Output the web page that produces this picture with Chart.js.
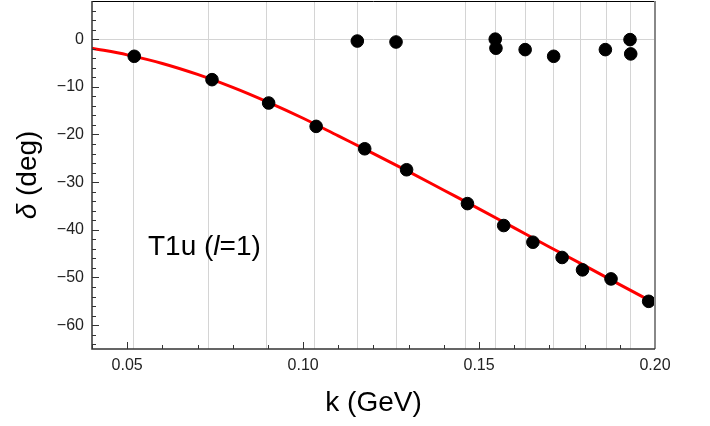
<!DOCTYPE html>
<html>
<head>
<meta charset="utf-8">
<script src="https://cdn.jsdelivr.net/npm/chart.js@4.4.0/dist/chart.umd.min.js"></script>
<style>
  html, body { margin: 0; padding: 0; background: #fff; }
  #wrap { width: 710px; height: 426px; position: relative; }
</style>
</head>
<body>
<div id="wrap"><canvas id="phase-shift"></canvas></div>
<script>
// lattice points, lower branch (follows the fit)
const lowerK = [0.0520, 0.0741, 0.0902, 0.1037, 0.1175, 0.1294, 0.1467, 0.1570, 0.1653, 0.1736, 0.1794, 0.1875, 0.1982];
const lowerDelta = [-3.6, -8.5, -13.4, -18.3, -23.0, -27.4, -34.5, -39.1, -42.6, -45.8, -48.4, -50.3, -55.0];

// lattice points near zero
const upperK = [0.1154, 0.1264, 0.1546, 0.1548, 0.1631, 0.1712, 0.1859, 0.1929, 0.1931];
const upperDelta = [-0.4, -0.6, 0.0, -1.9, -2.2, -3.6, -2.2, -0.1, -3.1];

// fitted curve
const curveK = [0.04, 0.05, 0.06, 0.07, 0.08, 0.09, 0.10, 0.11, 0.12, 0.13, 0.14, 0.15, 0.16, 0.17, 0.18, 0.19, 0.20];
const curveDelta = [-1.9, -3.3, -5.1, -7.4, -10.1, -13.2, -16.6, -20.3, -24.0, -27.8, -31.7, -35.6, -39.6, -43.6, -47.5, -51.5, -55.4];

// vertical grid lines (free energy levels)
const gridK = [0.05165, 0.07295, 0.08935, 0.10315, 0.11543, 0.12628, 0.14588, 0.15457, 0.16310, 0.17105, 0.17864, 0.18594, 0.19293];

const xTickValues = [0.05, 0.10, 0.15, 0.20];
const xTickLabels = ["0.05", "0.10", "0.15", "0.20"];
const yTickValues = [-60, -50, -40, -30, -20, -10, 0];
const yTickLabels = ["\u221260", "\u221250", "\u221240", "\u221230", "\u221220", "\u221210", "0"];

const FONT = "'Liberation Sans', Arial, sans-serif";

function toPoints(xs, ys) {
  return xs.map((x, i) => ({ x: x, y: ys[i] }));
}

const framePlugin = {
  id: "frame",
  beforeDatasetsDraw(chart) {
    const { ctx, chartArea: a, scales } = chart;
    ctx.save();
    ctx.strokeStyle = "#d4d4d4";
    ctx.lineWidth = 1;
    ctx.beginPath();
    for (const k of gridK) {
      const px = Math.round(scales.x.getPixelForValue(k)) + 0.5;
      ctx.moveTo(px, a.top);
      ctx.lineTo(px, a.bottom);
    }
    const py = Math.round(scales.y.getPixelForValue(0)) + 0.5;
    ctx.moveTo(a.left, py);
    ctx.lineTo(a.right, py);
    ctx.stroke();
    ctx.restore();
  },
  afterDatasetsDraw(chart) {
    const { ctx, chartArea: a, scales } = chart;
    ctx.save();
    // ticks, pointing into the plot
    ctx.strokeStyle = "#333";
    ctx.lineWidth = 1;
    ctx.beginPath();
    for (let i = 4; i <= 20; i++) {
      const v = i / 100;
      const px = Math.round(scales.x.getPixelForValue(v)) + 0.5;
      const len = i % 5 === 0 ? 7 : 4;
      ctx.moveTo(px, a.bottom);
      ctx.lineTo(px, a.bottom - len);
    }
    for (let v = -64; v <= 8; v += 2) {
      const py = Math.round(scales.y.getPixelForValue(v)) + 0.5;
      const len = v % 10 === 0 ? 7 : 4;
      ctx.moveTo(a.left, py);
      ctx.lineTo(a.left + len, py);
    }
    ctx.stroke();

    // frame
    ctx.lineWidth = 1;
    ctx.strokeStyle = "#000";
    ctx.beginPath();
    ctx.moveTo(a.left, a.top + 0.5);
    ctx.lineTo(a.right, a.top + 0.5);
    ctx.stroke();
    ctx.lineWidth = 2;
    ctx.strokeStyle = "#888";
    ctx.beginPath();
    ctx.moveTo(a.right, a.top);
    ctx.lineTo(a.right, a.bottom);
    ctx.stroke();
    ctx.lineWidth = 1.5;
    ctx.strokeStyle = "#333";
    ctx.beginPath();
    ctx.moveTo(a.left, a.top);
    ctx.lineTo(a.left, a.bottom);
    ctx.lineTo(a.right, a.bottom);
    ctx.stroke();
    ctx.restore();
  },
  afterDraw(chart) {
    const { ctx, chartArea: a } = chart;
    ctx.save();
    ctx.fillStyle = "#000";
    ctx.textBaseline = "middle";

    // y title, rotated, italic delta
    const big = "28px " + FONT;
    const bigIt = "italic 28px " + FONT;
    ctx.font = bigIt;
    const wD = ctx.measureText("\u03b4").width;
    ctx.font = big;
    const wRest = ctx.measureText(" (deg)").width;
    ctx.translate(28, (a.top + a.bottom) / 2);
    ctx.rotate(-Math.PI / 2);
    let x0 = -(wD + wRest) / 2;
    ctx.textAlign = "left";
    ctx.font = bigIt;
    ctx.fillText("\u03b4", x0, 0);
    ctx.font = big;
    ctx.fillText(" (deg)", x0 + wD, 0);
    ctx.setTransform(chart.currentDevicePixelRatio, 0, 0, chart.currentDevicePixelRatio, 0, 0);

    // x title
    ctx.textAlign = "center";
    ctx.font = big;
    ctx.fillText("k (GeV)", (a.left + a.right) / 2, 403);

    // channel label
    ctx.textAlign = "left";
    ctx.textBaseline = "alphabetic";
    let tx = 148;
    const ty = 255;
    ctx.font = big;
    ctx.fillText("T1u (", tx, ty);
    tx += ctx.measureText("T1u (").width;
    ctx.font = bigIt;
    ctx.fillText("l", tx, ty);
    tx += ctx.measureText("l").width;
    ctx.font = big;
    ctx.fillText("=1)", tx, ty);
    ctx.restore();
  }
};

new Chart(document.getElementById("phase-shift"), {
  type: "scatter",
  data: {
    datasets: [
      {
        type: "line",
        data: toPoints(curveK, curveDelta),
        borderColor: "#ff0000",
        borderWidth: 3,
        pointRadius: 0,
        cubicInterpolationMode: "monotone",
        fill: false,
        order: 2,
      },
      {
        data: toPoints(lowerK, lowerDelta),
        backgroundColor: "#000",
        borderColor: "#000",
        pointRadius: 6.3,
        order: 1,
      },
      {
        data: toPoints(upperK, upperDelta),
        backgroundColor: "#000",
        borderColor: "#000",
        pointRadius: 6.3,
        order: 1,
      },
    ],
  },
  options: {
    responsive: true,
    maintainAspectRatio: false,
    animation: false,
    layout: { autoPadding: false, padding: { left: 0, top: 1, right: 55, bottom: 0 } },
    plugins: {
      legend: { display: false },
      tooltip: { enabled: false },
    },
    scales: {
      x: {
        type: "linear",
        min: 0.04,
        max: 0.2,
        grid: { display: false, drawTicks: false },
        border: { display: false },
        afterBuildTicks: scale => {
          scale.ticks = xTickValues.map(v => ({ value: v }));
        },
        afterFit: scale => {
          scale.height = 77;
          scale.paddingLeft = 0;
          scale.paddingRight = 0;
        },
        ticks: {
          autoSkip: false,
          maxRotation: 0,
          padding: 7,
          color: "#222",
          font: { family: FONT, size: 16 },
          callback: (value, index) => xTickLabels[index],
        },
      },
      y: {
        type: "linear",
        min: -65,
        max: 8,
        grid: { display: false, drawTicks: false },
        border: { display: false },
        afterBuildTicks: scale => {
          scale.ticks = yTickValues.map(v => ({ value: v }));
        },
        afterFit: scale => {
          scale.width = 92;
          scale.paddingTop = 0;
          scale.paddingBottom = 0;
        },
        ticks: {
          autoSkip: false,
          padding: 8,
          color: "#222",
          font: { family: FONT, size: 16 },
          callback: (value, index) => yTickLabels[index],
        },
      },
    },
  },
  plugins: [framePlugin],
});
</script>
</body>
</html>
